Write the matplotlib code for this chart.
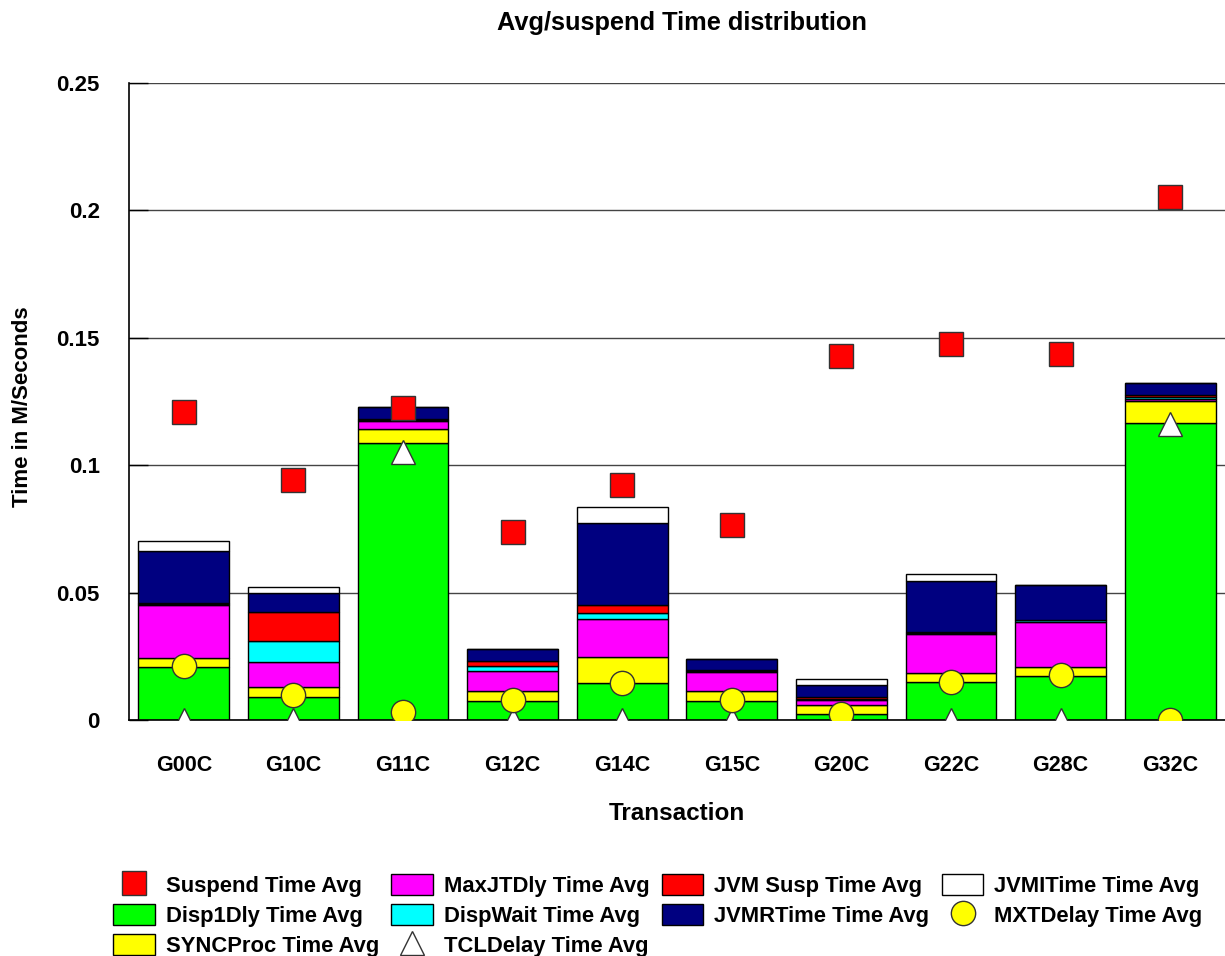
import matplotlib
matplotlib.use("Agg")
import matplotlib.pyplot as plt
from matplotlib.lines import Line2D
from matplotlib.patches import Patch
import numpy as np

plt.rcParams['font.family'] = ['Liberation Sans', 'DejaVu Sans']
plt.rcParams['font.weight'] = 'bold'

# transactions on the x axis
transactions = ["G00C", "G10C", "G11C", "G12C", "G14C", "G15C", "G20C", "G22C", "G28C", "G32C"]

# stacked bar segments (bottom to top)
disp1dly  = [0.0208, 0.0091, 0.1087, 0.0076, 0.0144, 0.0076, 0.0022, 0.0148, 0.0174, 0.1166]
syncproc  = [0.0034, 0.0037, 0.0054, 0.0039, 0.0103, 0.0039, 0.0036, 0.0038, 0.0035, 0.0085]
maxjtdly  = [0.0210, 0.0098, 0.0033, 0.0078, 0.0148, 0.0074, 0.0020, 0.0152, 0.0176, 0.0008]
dispwait  = [0.0003, 0.0082, 0.0003, 0.0018, 0.0026, 0.0003, 0.0006, 0.0003, 0.0006, 0.0008]
jvmsusp   = [0.0003, 0.0116, 0.0005, 0.0022, 0.0031, 0.0004, 0.0007, 0.0003, 0.0003, 0.0009]
jvmrtime  = [0.0203, 0.0076, 0.0046, 0.0047, 0.0319, 0.0045, 0.0045, 0.0203, 0.0135, 0.0047]
jvmitime  = [0.0043, 0.0022, 0.0000, 0.0000, 0.0063, 0.0000, 0.0024, 0.0024, 0.0000, 0.0000]

# point series
suspend   = [0.1210, 0.0940, 0.1225, 0.0737, 0.0920, 0.0764, 0.1426, 0.1476, 0.1434, 0.2053]
mxtdelay  = [0.0210, 0.0098, 0.0033, 0.0078, 0.0146, 0.0078, 0.0024, 0.0150, 0.0176, 0.0000]
tcldelay  = [0.0000, 0.0000, 0.1050, 0.0000, 0.0000, 0.0000, 0.0000, 0.0000, 0.0000, 0.1163]

stack = [
    ("Disp1Dly Time Avg", disp1dly, "#00ff00"),
    ("SYNCProc Time Avg", syncproc, "#ffff00"),
    ("MaxJTDly Time Avg", maxjtdly, "#ff00ff"),
    ("DispWait Time Avg", dispwait, "#00ffff"),
    ("JVM Susp Time Avg", jvmsusp, "#ff0000"),
    ("JVMRTime Time Avg", jvmrtime, "#000080"),
    ("JVMITime Time Avg", jvmitime, "#ffffff"),
]

fig = plt.figure(figsize=(12.25, 9.56), dpi=100)
ax = fig.add_axes([0.1053, 0.2469, 0.8947, 0.6666])

x = np.arange(len(transactions))
bottom = np.zeros(len(transactions))
handles = {}
for name, vals, color in stack:
    vals = np.array(vals)
    ax.bar(x, vals, width=0.83, bottom=bottom, color=color, edgecolor="black",
           linewidth=1.0, zorder=2)
    handles[name] = Patch(facecolor=color, edgecolor="black", linewidth=1.0)
    bottom += vals

ax.plot(x, suspend, linestyle="none", marker="s", markersize=17.5, markerfacecolor="#ff0000",
        markeredgecolor="#333333", markeredgewidth=1.0, zorder=4)
ax.plot(x, tcldelay, linestyle="none", marker="^", markersize=17.5, markerfacecolor="white",
        markeredgecolor="#333333", markeredgewidth=1.0, zorder=4)
ax.plot(x, mxtdelay, linestyle="none", marker="o", markersize=17.5, markerfacecolor="#ffff00",
        markeredgecolor="#333333", markeredgewidth=1.0, zorder=4)

handles["Suspend Time Avg"] = Line2D([], [], linestyle="none", marker="s", markersize=17.5,
                                     markerfacecolor="#ff0000", markeredgecolor="#333333")
handles["MXTDelay Time Avg"] = Line2D([], [], linestyle="none", marker="o", markersize=17.5,
                                      markerfacecolor="#ffff00", markeredgecolor="#333333")
handles["TCLDelay Time Avg"] = Line2D([], [], linestyle="none", marker="^", markersize=17.5,
                                      markerfacecolor="white", markeredgecolor="#333333")

ax.set_xlim(-0.5, len(transactions) - 0.5)
ax.set_ylim(0, 0.25)
ax.set_yticks([0, 0.05, 0.1, 0.15, 0.2, 0.25])
ax.set_yticklabels(["0", "0.05", "0.1", "0.15", "0.2", "0.25"])
ax.set_xticks(x)
ax.set_xticklabels(transactions)
ax.tick_params(axis="y", direction="in", length=14, width=1.0, pad=21, labelsize=16)
ax.tick_params(axis="x", length=0, pad=25.5, labelsize=15.5)
ax.yaxis.grid(True, color="#444444", linewidth=1.0, zorder=0)
ax.set_axisbelow(True)
ax.spines["right"].set_visible(False)
ax.spines["top"].set_visible(False)
for side in ["left", "bottom"]:
    ax.spines[side].set_linewidth(1.2)

ax.set_xlabel("Transaction", fontsize=17.5, fontweight="bold", labelpad=18.5)
ax.set_ylabel("Time in M/Seconds", fontsize=16, fontweight="bold")
ax.yaxis.set_label_coords(-0.0876, 0.492)
fig.text(0.557, 0.976, "Avg/suspend Time distribution", fontsize=18.3, fontweight="bold",
         ha="center", va="center")

order = ["Suspend Time Avg", "Disp1Dly Time Avg", "SYNCProc Time Avg",
         "MaxJTDly Time Avg", "DispWait Time Avg", "TCLDelay Time Avg",
         "JVM Susp Time Avg", "JVMRTime Time Avg",
         "JVMITime Time Avg", "MXTDelay Time Avg"]
leg = fig.legend([handles[k] for k in order], order, loc="upper left",
                 bbox_to_anchor=(0.0922, 0.0857), ncol=4, frameon=False,
                 prop={"size": 15.8, "weight": "bold"}, handlelength=1.9, handleheight=1.1,
                 handletextpad=0.5, columnspacing=0.56, labelspacing=0.32,
                 borderaxespad=0, borderpad=0)

fig.savefig("out.png", dpi=100)
